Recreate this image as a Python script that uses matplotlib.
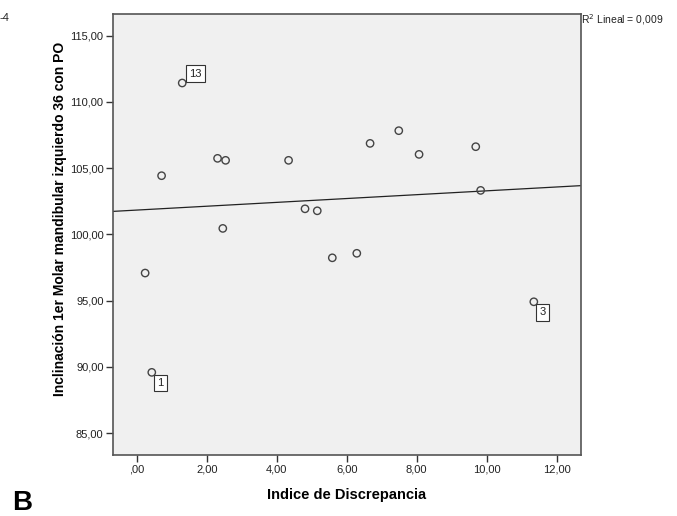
import numpy as np
import matplotlib
matplotlib.use("Agg")
import matplotlib.pyplot as plt

plt.rcParams['font.family'] = ['Liberation Sans', 'DejaVu Sans']

# Data
indice = [1.30, 0.71, 2.31, 2.54, 4.34, 4.81, 5.16, 6.67, 7.49, 8.07,
          9.69, 9.83, 6.29, 0.24, 2.46, 5.59, 0.43, 11.35]
inclinacion = [111.43, 104.43, 105.74, 105.59, 105.59, 101.93, 101.78, 106.87, 107.83, 106.04,
               106.62, 103.32, 98.57, 97.08, 100.45, 98.23, 89.58, 94.91]
case_labels = {0: "13", 16: "1", 17: "3"}
label_offsets = {0: (5, 3), 16: (4, -4), 17: (4, -4)}
label_va = {0: "bottom", 16: "top", 17: "top"}

xticks = [0, 2, 4, 6, 8, 10, 12]
xtick_labels = [",00", "2,00", "4,00", "6,00", "8,00", "10,00", "12,00"]
yticks = [85, 90, 95, 100, 105, 110, 115]
ytick_labels = ["85,00", "90,00", "95,00", "100,00", "105,00", "110,00", "115,00"]

fig = plt.figure(figsize=(6.77, 5.16), dpi=100)
W, H = 677, 516
ax = fig.add_axes([113.3 / W, 1 - 455 / H, (580.7 - 113.3) / W, (455 - 14) / H])
ax.set_facecolor('#f0f0f0')

x = np.array(indice)
y = np.array(inclinacion)
ax.set_xlim(-0.67, 12.69)
ax.set_ylim(83.34, 116.64)

# linear fit
b, a = np.polyfit(x, y, 1)
xl = np.array(ax.get_xlim())
ax.plot(xl, a + b * xl, color='#222222', lw=0.9, zorder=2)

ax.scatter(x, y, s=28, facecolors='none', edgecolors='#444444', linewidths=1.0, zorder=3)

for i, lab in case_labels.items():
    dx, dy = label_offsets[i]
    ax.annotate(lab, (x[i], y[i]), xytext=(dx, dy), textcoords='offset points',
                fontsize=8, ha='left', va=label_va[i], color='#222222',
                bbox=dict(boxstyle='square,pad=0.3', fc='white', ec='#333333', lw=0.8))

ax.set_xticks(xticks)
ax.set_xticklabels(xtick_labels)
ax.set_yticks(yticks)
ax.set_yticklabels(ytick_labels)
ax.tick_params(direction='out', length=5, width=1, color='#333333', labelsize=8,
               labelcolor='#222222', pad=2)
for s in ax.spines.values():
    s.set_color('#555555')
    s.set_linewidth(1.2)

ax.set_xlabel("Indice de Discrepancia", fontsize=10.5, fontweight='bold')
ax.xaxis.set_label_coords(0.5, -(495 - 455) / 441, transform=ax.transAxes)
ax.xaxis.label.set_va('center')
ax.set_ylabel("Inclinación 1er Molar mandibular izquierdo 36 con PO", fontsize=10,
              fontweight='bold')
ax.yaxis.set_label_coords(-(113.3 - 60) / 467.4, (455 - 219) / 441, transform=ax.transAxes)
ax.yaxis.label.set_va('center')

fig.text(581 / W, 1 - 20 / H, "R$^2$ Lineal = 0,009", fontsize=7.5, ha='left', va='center',
         color='#222222')
fig.text(0 / W, 1 - 18 / H, "-4", fontsize=8, ha='left', va='center', color='#222222')
fig.text(12 / W, 1 - 503 / H, "B", fontsize=20, fontweight='bold', ha='left', va='center')

fig.savefig("out.png", dpi=100)
